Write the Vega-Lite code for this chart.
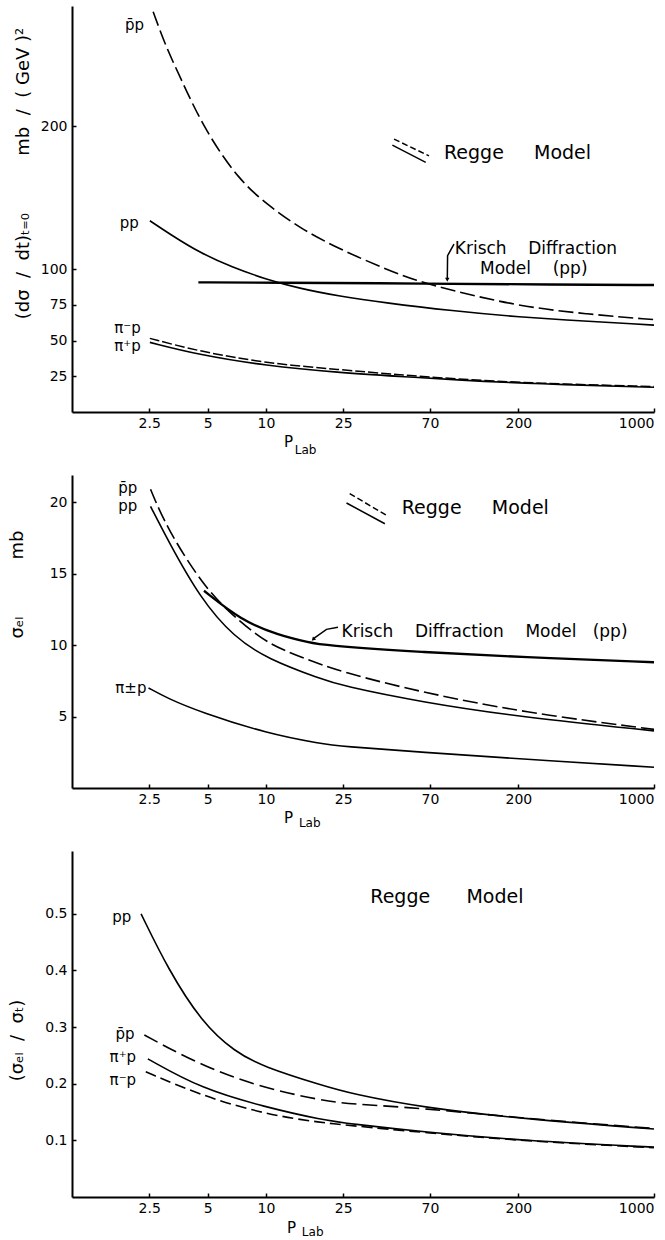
{
  "$schema": "https://vega.github.io/schema/vega-lite/v6.json",
  "background": "white",
  "padding": {"left": 8, "top": 6, "right": 4, "bottom": 0},
  "bounds": "flush",
  "spacing": 63,
  "config": {
    "view": {"stroke": null},
    "font": "DejaVu Sans",
    "axis": {
      "domainColor": "black", "domainWidth": 2, "tickColor": "black", "tickWidth": 1.5, "tickSize": -4,
      "labelColor": "black", "titleColor": "black", "grid": false,
      "labelFont": "DejaVu Sans", "titleFont": "DejaVu Sans", "titleFontWeight": "normal",
      "labelFontSize": 14, "labelOverlap": false
    },
    "text": {"color": "black", "font": "DejaVu Sans"}
  },
  "datasets": {
    "A": [
      {"s": "p̄p", "x": 2.62, "y": 280}, {"s": "p̄p", "x": 3.04, "y": 256}, {"s": "p̄p", "x": 3.56, "y": 236},
      {"s": "p̄p", "x": 4.79, "y": 198}, {"s": "p̄p", "x": 7.26, "y": 162}, {"s": "p̄p", "x": 10.4, "y": 144},
      {"s": "p̄p", "x": 14.8, "y": 129}, {"s": "p̄p", "x": 23.8, "y": 114}, {"s": "p̄p", "x": 41.4, "y": 100},
      {"s": "p̄p", "x": 59, "y": 92}, {"s": "p̄p", "x": 91, "y": 85}, {"s": "p̄p", "x": 201, "y": 74},
      {"s": "p̄p", "x": 445, "y": 68.5}, {"s": "p̄p", "x": 1000, "y": 64.6},
      {"s": "pp", "x": 2.52, "y": 133.8}, {"s": "pp", "x": 3.29, "y": 123.3}, {"s": "pp", "x": 4.52, "y": 111.7},
      {"s": "pp", "x": 6.7, "y": 101.2}, {"s": "pp", "x": 9.95, "y": 93}, {"s": "pp", "x": 14.8, "y": 86.5},
      {"s": "pp", "x": 23.8, "y": 81}, {"s": "pp", "x": 41.4, "y": 76.3},
      {"s": "pp", "x": 91, "y": 70.8}, {"s": "pp", "x": 201, "y": 66.2}, {"s": "pp", "x": 1000, "y": 60.8},
      {"s": "Krisch", "x": 4.48, "y": 90.7}, {"s": "Krisch", "x": 10, "y": 90.5}, {"s": "Krisch", "x": 70, "y": 89.8},
      {"s": "Krisch", "x": 300, "y": 89.2}, {"s": "Krisch", "x": 1000, "y": 88.8},
      {"s": "π⁻p", "x": 2.52, "y": 51.5}, {"s": "π⁻p", "x": 4.5, "y": 42.5}, {"s": "π⁻p", "x": 9.95, "y": 34.2},
      {"s": "π⁻p", "x": 23.8, "y": 29.6}, {"s": "π⁻p", "x": 50, "y": 26}, {"s": "π⁻p", "x": 91, "y": 23.2},
      {"s": "π⁻p", "x": 250, "y": 20}, {"s": "π⁻p", "x": 1000, "y": 17.8},
      {"s": "π⁺p", "x": 2.52, "y": 48.7}, {"s": "π⁺p", "x": 4.5, "y": 40}, {"s": "π⁺p", "x": 9.95, "y": 32.4},
      {"s": "π⁺p", "x": 23.8, "y": 27.5}, {"s": "π⁺p", "x": 50, "y": 24.8}, {"s": "π⁺p", "x": 91, "y": 22.6},
      {"s": "π⁺p", "x": 250, "y": 19.6}, {"s": "π⁺p", "x": 1000, "y": 17.3},
      {"s": "legend dashed", "x": 45.7, "y": 190.9}, {"s": "legend dashed", "x": 69.2, "y": 179.2},
      {"s": "legend solid", "x": 44.8, "y": 186.7}, {"s": "legend solid", "x": 66.6, "y": 174.6},
      {"s": "arrow", "x": 86.0, "y": 93}, {"s": "arrow", "x": 86.3, "y": 109.3}, {"s": "arrow", "x": 93.1, "y": 117.5},
      {"s": "arrowhead", "x": 86.0, "y": 92.5}
    ],
    "A_text": [
      {"role": "curve", "t": "p̄p", "x": 2.35, "y": 270.6},
      {"role": "curve", "t": "pp", "x": 2.21, "y": 132},
      {"role": "curve", "t": "π⁻p", "x": 2.26, "y": 58.7},
      {"role": "curve", "t": "π⁺p", "x": 2.26, "y": 46.2},
      {"role": "model", "t": "Regge\u00a0\u00a0\u00a0\u00a0\u00a0Model", "x": 82.7, "y": 181},
      {"role": "note", "t": "Krisch\u00a0\u00a0\u00a0\u00a0Diffraction", "x": 94, "y": 114},
      {"role": "note", "t": "Model\u00a0\u00a0\u00a0\u00a0(pp)", "x": 126.8, "y": 100},
      {"role": "sub", "t": "Lab", "x": 16.0, "y": -29.4}
    ],
    "B": [
      {"s": "p̄p", "x": 2.54, "y": 20.9}, {"s": "p̄p", "x": 3.1, "y": 18.1}, {"s": "p̄p", "x": 4.99, "y": 13.7},
      {"s": "p̄p", "x": 7.42, "y": 11.6}, {"s": "p̄p", "x": 10.2, "y": 10.1}, {"s": "p̄p", "x": 15.2, "y": 9.15},
      {"s": "p̄p", "x": 24.5, "y": 8.1}, {"s": "p̄p", "x": 63.6, "y": 6.7},
      {"s": "p̄p", "x": 209, "y": 5.3}, {"s": "p̄p", "x": 1000, "y": 4.1},
      {"s": "pp", "x": 2.54, "y": 19.7}, {"s": "pp", "x": 3.1, "y": 17.4}, {"s": "pp", "x": 4.61, "y": 13.2},
      {"s": "pp", "x": 6.85, "y": 10.55}, {"s": "pp", "x": 10.2, "y": 9.03}, {"s": "pp", "x": 19.2, "y": 7.63},
      {"s": "pp", "x": 24.5, "y": 7.16}, {"s": "pp", "x": 63.6, "y": 6.0}, {"s": "pp", "x": 209, "y": 4.95},
      {"s": "pp", "x": 1000, "y": 4.0},
      {"s": "Krisch", "x": 4.79, "y": 13.8}, {"s": "Krisch", "x": 7.42, "y": 11.75}, {"s": "Krisch", "x": 11.5, "y": 10.7},
      {"s": "Krisch", "x": 17.1, "y": 10.15}, {"s": "Krisch", "x": 19.2, "y": 10.0}, {"s": "Krisch", "x": 63.6, "y": 9.5},
      {"s": "Krisch", "x": 209, "y": 9.15}, {"s": "Krisch", "x": 1000, "y": 8.8},
      {"s": "π±p", "x": 2.48, "y": 7.0}, {"s": "π±p", "x": 3.1, "y": 6.28}, {"s": "π±p", "x": 4.61, "y": 5.3},
      {"s": "π±p", "x": 10.2, "y": 3.8}, {"s": "π±p", "x": 19.2, "y": 3.1}, {"s": "π±p", "x": 24.5, "y": 2.92},
      {"s": "π±p", "x": 63.6, "y": 2.5}, {"s": "π±p", "x": 209, "y": 2.03}, {"s": "π±p", "x": 1000, "y": 1.45},
      {"s": "legend dashed", "x": 27.0, "y": 20.6}, {"s": "legend dashed", "x": 42.7, "y": 19.0},
      {"s": "legend solid", "x": 26.0, "y": 19.94}, {"s": "legend solid", "x": 41.0, "y": 18.49},
      {"s": "arrow", "x": 17.5, "y": 10.43}, {"s": "arrow", "x": 20.5, "y": 11.1}, {"s": "arrow", "x": 23.5, "y": 11.25},
      {"s": "arrowhead", "x": 17.5, "y": 10.4}
    ],
    "B_text": [
      {"role": "curve", "t": "p̄p", "x": 2.17, "y": 21.0},
      {"role": "curve", "t": "pp", "x": 2.17, "y": 19.7},
      {"role": "curve", "t": "π±p", "x": 2.42, "y": 6.97},
      {"role": "model", "t": "Regge\u00a0\u00a0\u00a0\u00a0\u00a0Model", "x": 50.1, "y": 19.6},
      {"role": "note", "t": "Krisch\u00a0\u00a0\u00a0\u00a0Diffraction\u00a0\u00a0\u00a0\u00a0Model\u00a0\u00a0\u00a0(pp)", "x": 24.5, "y": 10.9},
      {"role": "sub", "t": "Lab", "x": 16.8, "y": -2.73}
    ],
    "C": [
      {"s": "pp", "x": 2.27, "y": 0.5}, {"s": "pp", "x": 3.12, "y": 0.403},
      {"s": "pp", "x": 4.65, "y": 0.309}, {"s": "pp", "x": 6.92, "y": 0.256}, {"s": "pp", "x": 9.7, "y": 0.230},
      {"s": "pp", "x": 19.5, "y": 0.197}, {"s": "pp", "x": 27.8, "y": 0.182}, {"s": "pp", "x": 64, "y": 0.158},
      {"s": "pp", "x": 211, "y": 0.138}, {"s": "pp", "x": 1000, "y": 0.12},
      {"s": "p̄p", "x": 2.36, "y": 0.286}, {"s": "p̄p", "x": 4.65, "y": 0.232}, {"s": "p̄p", "x": 9.15, "y": 0.195},
      {"s": "p̄p", "x": 19.5, "y": 0.170}, {"s": "p̄p", "x": 27.8, "y": 0.164}, {"s": "p̄p", "x": 64, "y": 0.157},
      {"s": "p̄p", "x": 211, "y": 0.139}, {"s": "p̄p", "x": 1000, "y": 0.121},
      {"s": "π⁺p", "x": 2.46, "y": 0.244}, {"s": "π⁺p", "x": 4.65, "y": 0.191}, {"s": "π⁺p", "x": 9.89, "y": 0.159},
      {"s": "π⁺p", "x": 19.5, "y": 0.136}, {"s": "π⁺p", "x": 27.8, "y": 0.129}, {"s": "π⁺p", "x": 64, "y": 0.115},
      {"s": "π⁺p", "x": 211, "y": 0.0995}, {"s": "π⁺p", "x": 1000, "y": 0.088},
      {"s": "π⁻p", "x": 2.4, "y": 0.221}, {"s": "π⁻p", "x": 4.65, "y": 0.179}, {"s": "π⁻p", "x": 9.89, "y": 0.146},
      {"s": "π⁻p", "x": 19.5, "y": 0.131}, {"s": "π⁻p", "x": 27.8, "y": 0.126}, {"s": "π⁻p", "x": 64, "y": 0.114},
      {"s": "π⁻p", "x": 211, "y": 0.099}, {"s": "π⁻p", "x": 1000, "y": 0.087}
    ],
    "C_text": [
      {"role": "curve", "t": "pp", "x": 2.02, "y": 0.494},
      {"role": "curve", "t": "p̄p", "x": 2.10, "y": 0.288},
      {"role": "curve", "t": "π⁺p", "x": 2.14, "y": 0.248},
      {"role": "curve", "t": "π⁻p", "x": 2.14, "y": 0.207},
      {"role": "model", "t": "Regge\u00a0\u00a0\u00a0\u00a0\u00a0\u00a0Model", "x": 34.5, "y": 0.529},
      {"role": "sub", "t": "Lab", "x": 17.4, "y": -0.069}
    ]
  },
  "vconcat": [
    {
      "width": 582, "height": 406,
      "encoding": {
        "x": {"field": "x", "type": "quantitative", "scale": {"type": "log", "domain": [1, 1000], "nice": false},
          "axis": {"values": [2.5, 5, 10, 25, 70, 200, 1000], "format": "~g", "labelFlush": true, "labelPadding": 8,
            "title": "P", "titleX": 216, "titleY": 34, "titleAlign": "center", "titleBaseline": "alphabetic", "titleFontSize": 15}},
        "y": {"field": "y", "type": "quantitative", "scale": {"domain": [0, 284], "nice": false, "zero": false},
          "axis": {"values": [25, 50, 75, 100, 200], "format": "d", "labelPadding": 9,
            "title": "(dσ\u00a0\u00a0/\u00a0\u00a0dt)ₜ₌₀\u00a0\u00a0\u00a0\u00a0\u00a0\u00a0\u00a0\u00a0\u00a0\u00a0mb\u00a0\u00a0/\u00a0\u00a0(\u00a0GeV\u00a0)²", "titleX": -49, "titleY": 167, "titleAngle": -90,
            "titleAlign": "center", "titleBaseline": "middle", "titleFontSize": 18}}
      },
      "layer": [
        {"data": {"name": "A"}, "transform": [{"filter": {"field": "s", "oneOf": ["pp", "π⁺p"]}}],
         "mark": {"type": "line", "color": "black", "strokeWidth": 1.6, "interpolate": "basis"}, "encoding": {"detail": {"field": "s"}}},
        {"data": {"name": "A"}, "transform": [{"filter": {"field": "s", "equal": "p̄p"}}],
         "mark": {"type": "line", "color": "black", "strokeWidth": 1.6, "interpolate": "basis", "strokeDash": [15, 5]}, "encoding": {}},
        {"data": {"name": "A"}, "transform": [{"filter": {"field": "s", "equal": "π⁻p"}}],
         "mark": {"type": "line", "color": "black", "strokeWidth": 1.5, "interpolate": "basis", "strokeDash": [10, 3]}, "encoding": {}},
        {"data": {"name": "A"}, "transform": [{"filter": {"field": "s", "equal": "Krisch"}}],
         "mark": {"type": "line", "color": "black", "strokeWidth": 2.4, "interpolate": "basis"}, "encoding": {}},
        {"data": {"name": "A"}, "transform": [{"filter": {"field": "s", "oneOf": ["legend solid", "arrow"]}}],
         "mark": {"type": "line", "color": "black", "strokeWidth": 1.5}, "encoding": {"detail": {"field": "s"}}},
        {"data": {"name": "A"}, "transform": [{"filter": {"field": "s", "equal": "legend dashed"}}],
         "mark": {"type": "line", "color": "black", "strokeWidth": 1.5, "strokeDash": [6, 3]}, "encoding": {}},
        {"data": {"name": "A"}, "transform": [{"filter": {"field": "s", "equal": "arrowhead"}}],
         "mark": {"type": "point", "shape": "triangle-down", "filled": true, "color": "black", "size": 20, "opacity": 1}},
        {"data": {"name": "A_text"}, "transform": [{"filter": {"field": "role", "equal": "curve"}}],
         "mark": {"type": "text", "align": "right", "baseline": "middle", "fontSize": 15}, "encoding": {"text": {"field": "t"}}},
        {"data": {"name": "A_text"}, "transform": [{"filter": {"field": "role", "equal": "model"}}],
         "mark": {"type": "text", "align": "left", "baseline": "middle", "fontSize": 19}, "encoding": {"text": {"field": "t"}}},
        {"data": {"name": "A_text"}, "transform": [{"filter": {"field": "role", "equal": "note"}}],
         "mark": {"type": "text", "align": "left", "baseline": "middle", "fontSize": 17}, "encoding": {"text": {"field": "t"}}},
        {"data": {"name": "A_text"}, "transform": [{"filter": {"field": "role", "equal": "sub"}}],
         "mark": {"type": "text", "align": "center", "baseline": "alphabetic", "fontSize": 12}, "encoding": {"text": {"field": "t"}}}
      ]
    },
    {
      "width": 582, "height": 313,
      "encoding": {
        "x": {"field": "x", "type": "quantitative", "scale": {"type": "log", "domain": [1, 1000], "nice": false},
          "axis": {"values": [2.5, 5, 10, 25, 70, 200, 1000], "format": "~g", "labelFlush": true, "labelPadding": 8,
            "title": "P", "titleX": 216, "titleY": 34, "titleAlign": "center", "titleBaseline": "alphabetic", "titleFontSize": 15}},
        "y": {"field": "y", "type": "quantitative", "scale": {"domain": [0, 21.9], "nice": false, "zero": false},
          "axis": {"values": [5, 10, 15, 20], "format": "d", "labelPadding": 9,
            "title": "σₑₗ\u00a0\u00a0\u00a0\u00a0\u00a0\u00a0\u00a0\u00a0\u00a0\u00a0mb", "titleX": -55, "titleY": 109, "titleAngle": -90,
            "titleAlign": "center", "titleBaseline": "middle", "titleFontSize": 18}}
      },
      "layer": [
        {"data": {"name": "B"}, "transform": [{"filter": {"field": "s", "oneOf": ["pp", "π±p"]}}],
         "mark": {"type": "line", "color": "black", "strokeWidth": 1.6, "interpolate": "basis"}, "encoding": {"detail": {"field": "s"}}},
        {"data": {"name": "B"}, "transform": [{"filter": {"field": "s", "equal": "p̄p"}}],
         "mark": {"type": "line", "color": "black", "strokeWidth": 1.6, "interpolate": "basis", "strokeDash": [15, 5]}, "encoding": {}},
        {"data": {"name": "B"}, "transform": [{"filter": {"field": "s", "equal": "Krisch"}}],
         "mark": {"type": "line", "color": "black", "strokeWidth": 2.3, "interpolate": "basis"}, "encoding": {}},
        {"data": {"name": "B"}, "transform": [{"filter": {"field": "s", "oneOf": ["legend solid", "arrow"]}}],
         "mark": {"type": "line", "color": "black", "strokeWidth": 1.5}, "encoding": {"detail": {"field": "s"}}},
        {"data": {"name": "B"}, "transform": [{"filter": {"field": "s", "equal": "legend dashed"}}],
         "mark": {"type": "line", "color": "black", "strokeWidth": 1.5, "strokeDash": [6, 3]}, "encoding": {}},
        {"data": {"name": "B"}, "transform": [{"filter": {"field": "s", "equal": "arrowhead"}}],
         "mark": {"type": "point", "shape": "triangle-down", "filled": true, "color": "black", "size": 20, "opacity": 1, "angle": 45}},
        {"data": {"name": "B_text"}, "transform": [{"filter": {"field": "role", "equal": "curve"}}],
         "mark": {"type": "text", "align": "right", "baseline": "middle", "fontSize": 15}, "encoding": {"text": {"field": "t"}}},
        {"data": {"name": "B_text"}, "transform": [{"filter": {"field": "role", "equal": "model"}}],
         "mark": {"type": "text", "align": "left", "baseline": "middle", "fontSize": 19}, "encoding": {"text": {"field": "t"}}},
        {"data": {"name": "B_text"}, "transform": [{"filter": {"field": "role", "equal": "note"}}],
         "mark": {"type": "text", "align": "left", "baseline": "middle", "fontSize": 17}, "encoding": {"text": {"field": "t"}}},
        {"data": {"name": "B_text"}, "transform": [{"filter": {"field": "role", "equal": "sub"}}],
         "mark": {"type": "text", "align": "center", "baseline": "alphabetic", "fontSize": 12}, "encoding": {"text": {"field": "t"}}}
      ]
    },
    {
      "width": 582, "height": 346,
      "encoding": {
        "x": {"field": "x", "type": "quantitative", "scale": {"type": "log", "domain": [1, 1000], "nice": false},
          "axis": {"values": [2.5, 5, 10, 25, 70, 200, 1000], "format": "~g", "labelFlush": true, "labelPadding": 8,
            "title": "P", "titleX": 219, "titleY": 35, "titleAlign": "center", "titleBaseline": "alphabetic", "titleFontSize": 15}},
        "y": {"field": "y", "type": "quantitative", "scale": {"domain": [0, 0.611], "nice": false, "zero": false},
          "axis": {"values": [0.1, 0.2, 0.3, 0.4, 0.5], "format": ".1f", "labelPadding": 9,
            "title": "(σₑₗ\u00a0\u00a0/\u00a0\u00a0σₜ)", "titleX": -55, "titleY": 189, "titleAngle": -90,
            "titleAlign": "center", "titleBaseline": "middle", "titleFontSize": 18}}
      },
      "layer": [
        {"data": {"name": "C"}, "transform": [{"filter": {"field": "s", "oneOf": ["pp", "π⁺p"]}}],
         "mark": {"type": "line", "color": "black", "strokeWidth": 1.6, "interpolate": "basis"}, "encoding": {"detail": {"field": "s"}}},
        {"data": {"name": "C"}, "transform": [{"filter": {"field": "s", "equal": "p̄p"}}],
         "mark": {"type": "line", "color": "black", "strokeWidth": 1.6, "interpolate": "basis", "strokeDash": [15, 6]}, "encoding": {}},
        {"data": {"name": "C"}, "transform": [{"filter": {"field": "s", "equal": "π⁻p"}}],
         "mark": {"type": "line", "color": "black", "strokeWidth": 1.6, "interpolate": "basis", "strokeDash": [11, 5]}, "encoding": {}},
        {"data": {"name": "C_text"}, "transform": [{"filter": {"field": "role", "equal": "curve"}}],
         "mark": {"type": "text", "align": "right", "baseline": "middle", "fontSize": 15}, "encoding": {"text": {"field": "t"}}},
        {"data": {"name": "C_text"}, "transform": [{"filter": {"field": "role", "equal": "model"}}],
         "mark": {"type": "text", "align": "left", "baseline": "middle", "fontSize": 19}, "encoding": {"text": {"field": "t"}}},
        {"data": {"name": "C_text"}, "transform": [{"filter": {"field": "role", "equal": "sub"}}],
         "mark": {"type": "text", "align": "center", "baseline": "alphabetic", "fontSize": 12}, "encoding": {"text": {"field": "t"}}}
      ]
    }
  ]
}
